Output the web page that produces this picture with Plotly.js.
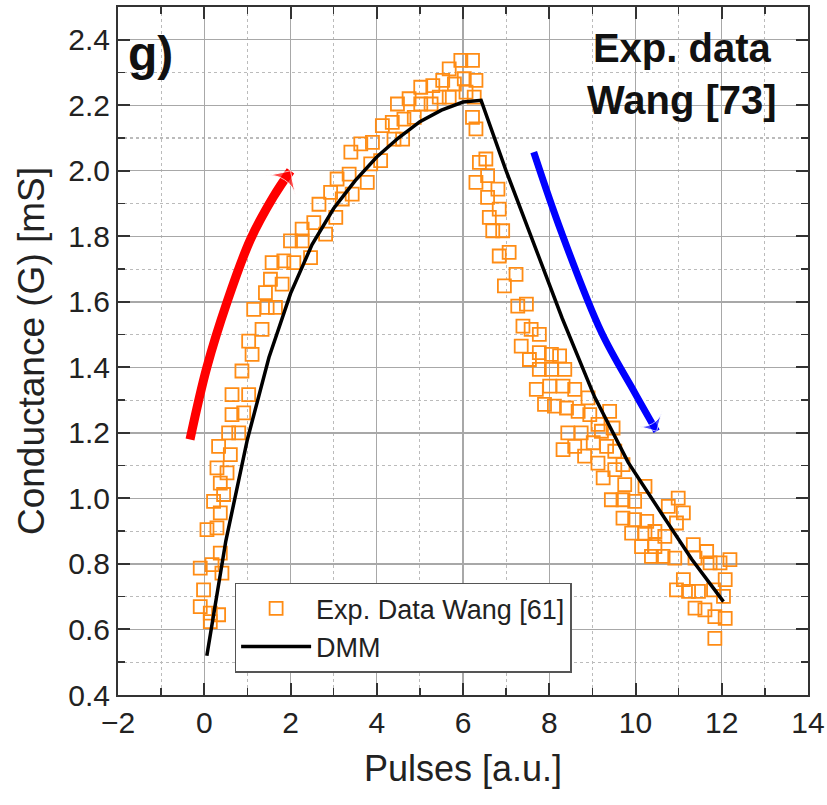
<!DOCTYPE html>
<html>
<head>
<meta charset="utf-8">
<script src="https://cdn.plot.ly/plotly-3.0.1.min.js"></script>
<style>html,body{margin:0;padding:0;background:#fff;}#chart{width:827px;height:805px;}</style>
</head>
<body>
<div id="chart"></div>
<script>
// Experimental data (Exp. Data Wang [61]) — pulses and conductance [mS]
const expX = [
 0.644,1.03,0.644,0.915,0.565,0.80,0.333,0.605,0.295,0.528,0.372,0.216,0.449,0.372,0.063,0.295,0.372,-0.093,0.41,0.18,-0.016,-0.093,0.14,0.333,0.14,
 0.874,1.109,1.03,1.34,1.147,1.458,1.419,1.651,1.806,1.535,1.574,1.845,2.077,2.465,2.0,2.27,2.27,2.54,2.814,2.66,3.05,2.93,3.2,3.08,3.36,3.43,3.78,3.40,3.63,3.90,4.09,3.86,4.13,4.40,
 4.36,4.6,4.48,4.63,4.75,4.87,5.02,5.02,5.26,5.30,5.53,5.68,5.45,5.68,5.80,5.95,6.22,6.03,6.30,6.07,6.26,6.22,6.30,
 6.38,6.53,6.57,6.30,6.81,6.57,6.84,6.61,6.69,6.92,
 6.84,7.07,7.23,6.96,7.27,7.47,7.39,7.58,7.77,7.35,7.54,7.77,8.05,8.24,7.77,8.05,8.36,7.70,8.01,8.32,8.59,7.89,8.12,8.40,8.67,8.90,8.94,9.40,8.43,8.74,9.13,9.48,8.32,8.59,9.02,9.33,8.82,9.13,9.52,9.71,
 9.21,9.25,9.52,9.75,9.44,9.71,9.98,10.22,9.71,9.98,10.26,9.91,10.22,10.45,10.76,10.99,11.11,10.95,10.14,10.37,10.64,10.91,10.45,10.68,11.34,11.38,11.65,11.73,11.96,12.19,11.11,10.95,11.23,11.46,11.81,12.08,12.04,11.38,11.61,11.84,12.08,11.84
];
const expG = [
 1.317,1.317,1.256,1.261,1.200,1.200,1.159,1.134,1.093,1.078,1.047,0.991,1.012,0.956,0.905,0.910,0.833,0.787,0.772,0.798,0.721,0.670,0.650,0.645,0.624,
 1.389,1.440,1.480,1.516,1.577,1.583,1.628,1.583,1.654,1.669,1.720,1.725,1.720,1.735,1.786,1.786,1.822,1.842,1.807,1.898,1.858,1.934,1.914,1.975,1.990,1.929,1.965,2.057,2.082,2.087,2.031,2.021,2.138,2.097,
 2.148,2.097,2.204,2.158,2.220,2.163,2.255,2.204,2.204,2.260,2.276,2.225,2.225,2.311,2.265,2.337,2.337,2.281,2.276,2.240,2.225,2.163,2.128,
 2.026,2.036,1.985,1.965,1.944,1.919,1.883,1.858,1.817,1.817,
 1.740,1.751,1.684,1.649,1.587,1.593,1.526,1.516,1.501,1.465,1.424,1.445,1.440,1.435,1.394,1.394,1.394,1.333,1.343,1.343,1.333,1.287,1.282,1.276,1.266,1.307,1.256,1.266,1.200,1.200,1.226,1.215,1.149,1.159,1.170,1.159,1.129,1.108,1.144,1.103,
 1.205,1.063,1.088,1.042,0.996,0.996,0.991,1.037,0.940,0.935,0.930,0.894,0.894,0.899,0.976,1.001,0.956,0.925,0.853,0.823,0.823,0.818,0.853,0.884,0.859,0.818,0.838,0.803,0.803,0.813,0.752,0.721,0.716,0.716,0.721,0.752,0.701,0.665,0.660,0.639,0.634,0.573
];
// DMM model curve
const dmmX = [0.06,0.5,1.0,1.5,2.0,2.5,3.0,3.5,4.0,4.5,5.0,5.5,6.0,6.42,7.0,7.66,8.3,9.05,9.83,10.6,11.3,12.04];
const dmmG = [0.52,0.87,1.18,1.43,1.625,1.775,1.885,1.97,2.042,2.10,2.15,2.185,2.21,2.215,2.00,1.77,1.55,1.31,1.11,0.955,0.815,0.685];
// Guide arrows (potentiation / depression)
const redX = [-0.33,0.06,0.53,1.07,1.6,2.0];
const redG = [1.18,1.40,1.60,1.79,1.92,2.0];
const blueX = [7.64,8.28,9.21,9.98,10.49];
const blueG = [2.057,1.813,1.507,1.323,1.205];
// Labels
const panelLabel = 'g)';
const boxLabel = 'Exp. data<br>Wang [73]';
const expName = 'Exp. Data Wang [61]';
const dmmName = 'DMM';
const xTitle = 'Pulses [a.u.]';
const yTitle = 'Conductance (G) [mS]';

const FONT = '"Liberation Sans", Arial, sans-serif';
function arrowSizes(n, s){ const a = new Array(n).fill(0); a[n-1] = s; return a; }

const traces = [
 {x: expX, y: expG, type:'scatter', mode:'markers', name: expName,
  marker:{symbol:'square-open', size:13, color:'rgb(255,140,20)', line:{width:1.8, color:'rgb(255,140,20)'}}},
 {x: dmmX, y: dmmG, type:'scatter', mode:'lines', name: dmmName,
  line:{color:'#000', width:3.5}},
 {x: redX, y: redG, type:'scatter', mode:'lines+markers', showlegend:false, hoverinfo:'skip',
  line:{color:'#ff0000', width:9, shape:'spline', smoothing:1},
  marker:{symbol:'arrow-wide', angleref:'previous', size:arrowSizes(redX.length,26), color:'#ff0000'}},
 {x: blueX, y: blueG, type:'scatter', mode:'lines+markers', showlegend:false, hoverinfo:'skip',
  line:{color:'#0000ff', width:7, shape:'spline', smoothing:1},
  marker:{symbol:'arrow-wide', angleref:'previous', size:arrowSizes(blueX.length,21), color:'#0000ff'}}
];

const axisCommon = {
  showgrid:true, gridcolor:'#a8a8a8', gridwidth:1.3,
  zeroline:false, showline:true, linecolor:'#333', linewidth:2, mirror:'ticks',
  ticks:'inside', ticklen:12, tickwidth:2, tickcolor:'#333',
  tickfont:{family:FONT, size:30, color:'#222'},
};

const layout = {
  width:827, height:805,
  margin:{l:118, r:19, t:7, b:110},
  paper_bgcolor:'#fff', plot_bgcolor:'#fff',
  font:{family:FONT, color:'#222'},
  showlegend:true,
  legend:{x:0.169, y:0.163, xanchor:'left', yanchor:'top', bgcolor:'#fff',
          bordercolor:'#555', borderwidth:1.5, itemwidth:70,
          font:{family:FONT, size:27, color:'#222'}},
  xaxis: Object.assign({}, axisCommon, {
    range:[-2,14], tick0:0, dtick:2,
    minor:{dtick:1, showgrid:true, griddash:'dot', gridcolor:'#bbb', gridwidth:1.2,
           ticks:'inside', ticklen:7, tickwidth:1.5, tickcolor:'#333'},
    title:{text:xTitle, font:{family:FONT, size:36, color:'#222'}, standoff:18}
  }),
  yaxis: Object.assign({}, axisCommon, {
    range:[0.4,2.5], tick0:0.4, dtick:0.2, tickformat:'.1f',
    minor:{dtick:0.1, showgrid:true, griddash:'dot', gridcolor:'#bbb', gridwidth:1.2,
           ticks:'inside', ticklen:7, tickwidth:1.5, tickcolor:'#333'},
    title:{text:yTitle, font:{family:FONT, size:37, color:'#222'}, standoff:12}
  }),
  annotations:[
    {text:panelLabel, xref:'paper', yref:'paper', x:0.012, y:0.933, xanchor:'left', yanchor:'middle',
     showarrow:false, font:{family:FONT, size:48, color:'#111', weight:'bold'}},
    {text:boxLabel, xref:'paper', yref:'paper', x:0.817, y:0.903, xanchor:'center', yanchor:'middle',
     showarrow:false, align:'center', font:{family:FONT, size:40, color:'#111', weight:'bold'}}
  ]
};

Plotly.newPlot('chart', traces, layout, {staticPlot:true, displayModeBar:false});
</script>
</body>
</html>
